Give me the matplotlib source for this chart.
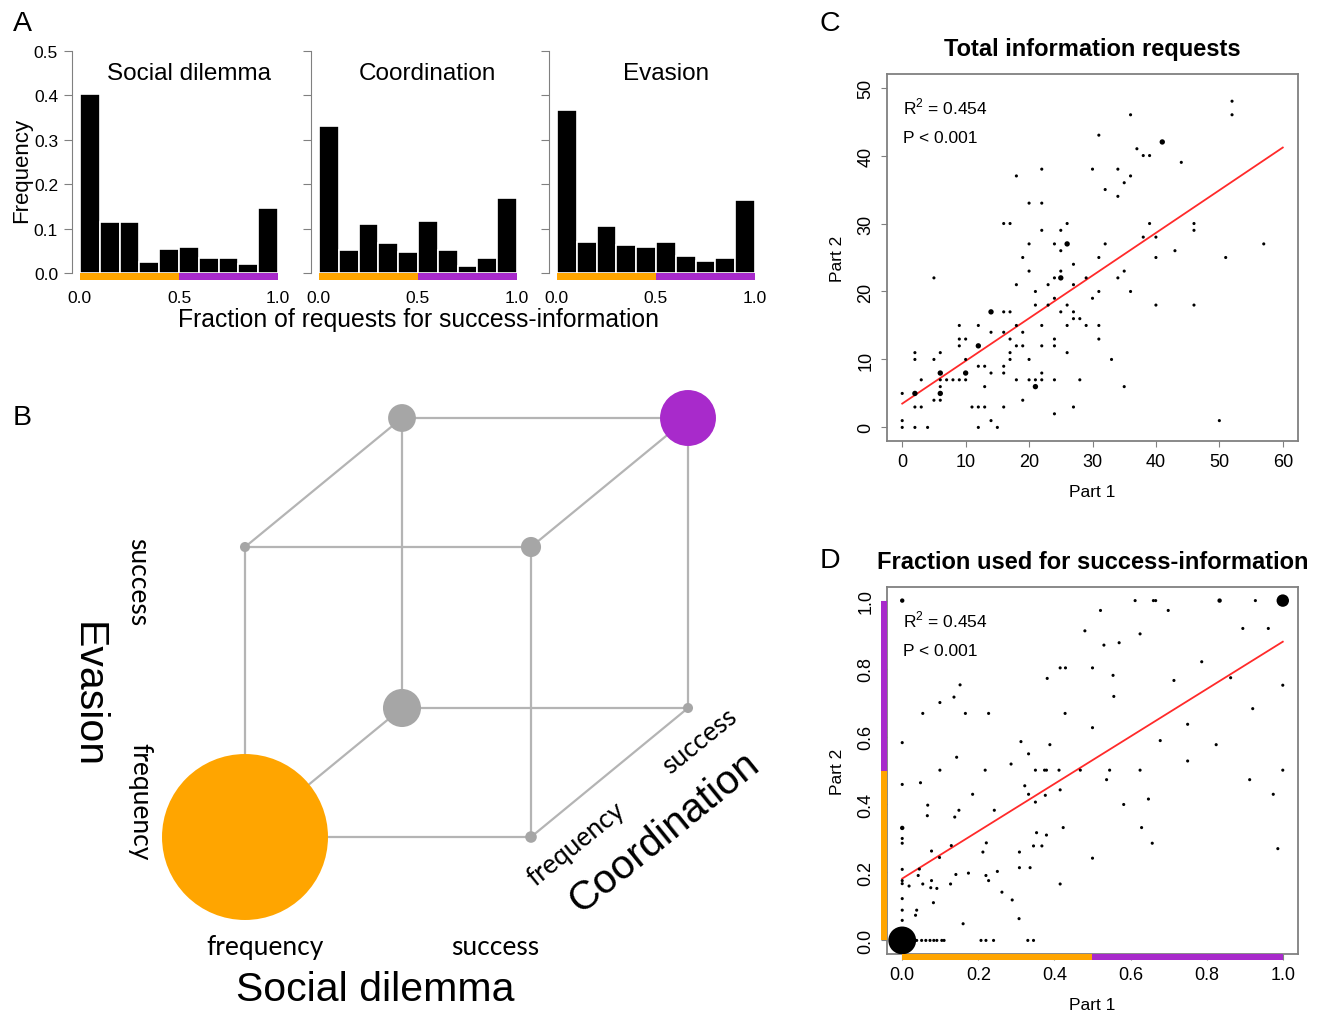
import itertools
import matplotlib
matplotlib.use('Agg')
import matplotlib.pyplot as plt
from matplotlib.patches import Circle, Rectangle

plt.rcParams['font.family'] = ['Liberation Sans', 'DejaVu Sans']
plt.rcParams['mathtext.fontset'] = 'custom'
plt.rcParams['mathtext.rm'] = 'Liberation Sans'

W, H = 1323, 1012
ORANGE = '#FFA500'
PURPLE = '#A82ACB'
GREY = '#808080'

# ---- panel A: histograms of fraction of requests for success-information
bin_left = [0.0, 0.1, 0.2, 0.3, 0.4, 0.5, 0.6, 0.7, 0.8, 0.9]
games = ['Social dilemma', 'Coordination', 'Evasion']
freq_social = [0.404, 0.114, 0.114, 0.026, 0.054, 0.059, 0.034, 0.034, 0.020, 0.147]
freq_coord = [0.332, 0.053, 0.111, 0.067, 0.047, 0.118, 0.053, 0.015, 0.033, 0.170]
freq_evasion = [0.367, 0.070, 0.107, 0.064, 0.058, 0.070, 0.039, 0.027, 0.033, 0.164]

# ---- panel B: cube of strategy types (social dilemma, coordination, evasion)
type_sd = [0, 1, 0, 1, 0, 1, 0, 1]
type_co = [0, 0, 1, 1, 0, 0, 1, 1]
type_ev = [0, 0, 0, 0, 1, 1, 1, 1]
type_share = [0.819, 0.004, 0.043, 0.003, 0.003, 0.012, 0.023, 0.093]

# ---- panel C: total information requests, part 1 vs part 2
c_part1 = [0, 0, 0, 2, 2, 2, 2, 2, 3, 3, 4, 5, 5, 5, 6, 6, 6, 6, 6, 6, 7, 8,
           9, 9, 9, 9, 10, 10, 10, 10, 11, 12, 12, 12, 12, 12, 13, 13, 13,
           14, 14, 14, 14, 15, 16, 16, 16, 16, 16, 16, 17, 17, 17, 17, 17,
           18, 18, 18, 18, 18, 19, 19, 19, 19, 20, 20, 20, 20, 20, 21, 21, 21, 21,
           22, 22, 22, 22, 22, 22, 22, 23, 23, 24, 24, 24, 24, 24, 24, 24,
           25, 25, 25, 25, 25, 26, 26, 26, 26, 26, 27, 27, 27, 27, 27, 28, 28,
           29, 29, 30, 30, 31, 31, 31, 31, 31, 32, 32, 33, 34, 34, 34, 35, 35, 35,
           36, 36, 36, 37, 38, 38, 39, 39, 40, 40, 40, 41, 43, 44, 46, 46, 46,
           50, 51, 52, 52, 57]
c_part2 = [5, 1, 0, 5, 11, 10, 3, 0, 7, 3, 0, 22, 10, 4, 11, 8, 7, 5, 6, 4, 7, 7,
           15, 13, 12, 7, 13, 10, 8, 7, 3, 15, 12, 9, 3, 0, 9, 6, 3,
           17, 14, 8, 1, 0, 30, 17, 14, 9, 8, 3, 30, 17, 13, 11, 10,
           37, 21, 15, 12, 7, 25, 14, 12, 4, 33, 27, 23, 10, 7, 20, 18, 7, 6,
           38, 33, 29, 15, 12, 8, 7, 21, 18, 27, 22, 19, 13, 12, 7, 2,
           29, 26, 23, 22, 17, 30, 27, 18, 15, 11, 24, 21, 17, 16, 3, 16, 7,
           22, 15, 38, 19, 43, 25, 20, 15, 13, 35, 27, 10, 38, 34, 22, 36, 23, 6,
           46, 37, 20, 41, 40, 28, 40, 30, 28, 25, 18, 42, 26, 39, 30, 29, 18,
           1, 25, 48, 46, 27]
c_n = [1] * len(c_part1)
for big in [(2, 5), (6, 8), (6, 5), (10, 8), (12, 12), (14, 17), (21, 6),
            (25, 22), (26, 27), (41, 42)]:
    c_n[list(zip(c_part1, c_part2)).index(big)] = 3
c_fit = (3.5, 0.628)  # intercept, slope

# ---- panel D: fraction used for success-information, part 1 vs part 2
d_part1 = [0.0, 0.0, 0.0, 0.0, 0.0, 0.0, 0.0, 0.0, 0.0, 0.0, 0.0, 0.0, 0.0,
           0.038, 0.051, 0.062, 0.073, 0.083, 0.091, 0.104, 0.110, 0.207, 0.220,
           0.240, 0.330, 0.345,
           0.018, 0.035, 0.038, 0.042, 0.045, 0.048, 0.054, 0.054, 0.066, 0.067,
           0.075, 0.077, 0.077, 0.082, 0.091, 0.098, 0.099, 0.099, 0.127, 0.129,
           0.136, 0.138, 0.141, 0.143, 0.149, 0.152, 0.160, 0.166, 0.174, 0.185,
           0.212, 0.218, 0.220, 0.221, 0.227, 0.227, 0.242, 0.250, 0.262, 0.286,
           0.289, 0.307, 0.308, 0.308, 0.312, 0.322, 0.332, 0.332, 0.336, 0.345,
           0.350, 0.350, 0.353, 0.367, 0.374, 0.379, 0.376, 0.379, 0.381, 0.388,
           0.412, 0.415, 0.415, 0.415, 0.423, 0.429, 0.428, 0.468, 0.480, 0.500,
           0.500, 0.500, 0.521, 0.530, 0.537, 0.545, 0.554, 0.556, 0.570, 0.582,
           0.612, 0.625, 0.625, 0.629, 0.647, 0.657, 0.660, 0.666, 0.678, 0.699,
           0.714, 0.750, 0.750, 0.787, 0.825, 0.834, 0.863, 0.895, 0.913, 0.921,
           0.928, 0.962, 0.975, 0.987, 0.991, 1.0, 1.0, 1.0]
d_part2 = [1.0, 0.582, 0.459, 0.331, 0.300, 0.286, 0.209, 0.176, 0.167, 0.123,
           0.089, 0.059, 0.0,
           0.0, 0.0, 0.0, 0.0, 0.0, 0.0, 0.0, 0.0, 0.0, 0.0, 0.0, 0.0, 0.0,
           0.160, 0.074, 0.089, 0.191, 0.210, 0.464, 0.668, 0.166, 0.367, 0.398,
           0.155, 0.176, 0.263, 0.111, 0.153, 0.244, 0.700, 0.501, 0.166, 0.279,
           0.716, 0.363, 0.194, 0.539, 0.383, 0.752, 0.049, 0.668, 0.198, 0.430,
           0.260, 0.501, 0.191, 0.287, 0.668, 0.176, 0.383, 0.203, 0.142, 0.519,
           0.119, 0.064, 0.260, 0.214, 0.585, 0.455, 0.549, 0.430, 0.214, 0.278,
           0.501, 0.407, 0.317, 0.278, 0.501, 0.501, 0.427, 0.310, 0.771, 0.576,
           0.501, 0.802, 0.443, 0.166, 0.332, 0.802, 0.668, 0.501, 0.911, 0.802,
           0.626, 0.242, 0.971, 0.869, 0.473, 0.501, 0.780, 0.718, 0.876, 0.400,
           1.0, 0.902, 0.501, 0.332, 0.416, 0.286, 1.0, 1.0, 0.588, 0.971,
           0.765, 0.636, 0.528, 0.820, 0.576, 1.0, 0.773, 0.918, 0.473, 0.682,
           1.0, 0.918, 0.430, 0.270, 1.0, 1.0, 0.751, 0.501]
d_n = [1] * len(d_part1)
d_n[0] = 2
d_n[3] = 2
d_n[12] = 80
d_n[d_part1.index(0.834)] = 2
d_n[len(d_part1) - 3] = 16
d_fit = (0.182, 0.697)


fig = plt.figure(figsize=(W / 100, H / 100), dpi=100)


def px_axes(x0, y0, w, h, **kw):
    return fig.add_axes([x0 / W, 1 - (y0 + h) / H, w / W, h / H], **kw)


# ---------------- panel B (drawn in pixel coordinates on a full-figure axes)
axb = px_axes(0, 0, W, H)
axb.set_xlim(0, W)
axb.set_ylim(H, 0)
axb.axis('off')
origin = (245, 838)
v_sd, v_co, v_ev = (286, 0), (157, -129), (0, -290)


def project(sd, co, ev):
    return (origin[0] + sd * v_sd[0] + co * v_co[0] + ev * v_ev[0],
            origin[1] + sd * v_sd[1] + co * v_co[1] + ev * v_ev[1])


corners = list(itertools.product([0, 1], repeat=3))
for a, b in itertools.combinations(corners, 2):
    if sum(abs(i - j) for i, j in zip(a, b)) == 1:
        pa, pb = project(*a), project(*b)
        axb.plot([pa[0], pb[0]], [pa[1], pb[1]], color='#b4b4b4', lw=1.6, zorder=1)

for sd, co, ev, share in zip(type_sd, type_co, type_ev, type_share):
    if (sd, co, ev) == (0, 0, 0):
        col = ORANGE
    elif (sd, co, ev) == (1, 1, 1):
        col = PURPLE
    else:
        col = '#a6a6a6'
    axb.add_patch(Circle(project(sd, co, ev), 91.7 * share ** 0.5, color=col, lw=0, zorder=2))

small = dict(family=['Lato', 'DejaVu Sans'], fontsize=19, ha='center', va='center')
axb.text(138, 582, 'success', rotation=270, **small)
axb.text(140, 802, 'frequency', rotation=270, **small)
axb.text(265, 948, 'frequency', **small)
axb.text(495, 948, 'success', **small)
axb.text(576, 844, 'frequency', rotation=39, **small)
axb.text(700, 741, 'success', rotation=39, **small)
axb.text(88, 695, 'Evasion', rotation=270, fontsize=29.5, ha='center', va='center')
axb.text(375, 990, 'Social dilemma', fontsize=29.5, ha='center', va='center')
axb.text(664, 832, 'Coordination', rotation=39, fontsize=29.5, ha='center', va='center',
         rotation_mode='anchor')

# ---------------- panel A
for i, (name, freq) in enumerate(zip(games, [freq_social, freq_coord, freq_evasion])):
    ax = px_axes([72, 311, 549][i], 43, 214, 240)
    ax.bar(bin_left, freq, width=0.1, align='edge', color='black',
           edgecolor='white', linewidth=1.2)
    ax.add_patch(Rectangle((0, -0.015), 0.5, 0.015, color=ORANGE, lw=0, clip_on=False))
    ax.add_patch(Rectangle((0.5, -0.015), 0.5, 0.015, color=PURPLE, lw=0, clip_on=False))
    ax.set_xlim(-0.04, 1.04)
    ax.set_ylim(-0.02, 0.52)
    for s in ['top', 'right', 'bottom']:
        ax.spines[s].set_visible(False)
    ax.spines['left'].set_bounds(0, 0.5)
    ax.spines['left'].set_color(GREY)
    ax.set_yticks([0, 0.1, 0.2, 0.3, 0.4, 0.5])
    if i == 0:
        ax.set_yticklabels(['0.0', '0.1', '0.2', '0.3', '0.4', '0.5'])
    else:
        ax.set_yticklabels([])
    ax.tick_params(axis='y', length=6, color=GREY, labelsize=12.5, pad=4)
    ax.set_xticks([0, 0.5, 1.0])
    ax.set_xticklabels(['0.0', '0.5', '1.0'])
    ax.tick_params(axis='x', length=0, labelsize=12.5, pad=6)
    ax.text(0.55, 0.45, name, ha='center', va='center', fontsize=17.5)

fig.text(22 / W, 1 - 170 / H, 'Frequency', rotation=90, ha='center', va='center', fontsize=16)
fig.text(419 / W, 1 - 320 / H, 'Fraction of requests for success-information',
         ha='center', va='center', fontsize=17.8)


# ---------------- panels C and D
def style_box(ax):
    for s in ax.spines.values():
        s.set_color(GREY)
        s.set_linewidth(1.3)
    ax.tick_params(length=4.5, color=GREY, labelsize=13, pad=4.5)
    for lbl in ax.get_yticklabels():
        lbl.set_rotation(90)
        lbl.set_va('center')
    ax.set_xlabel('Part 1', fontsize=12.5, labelpad=10)
    ax.set_ylabel('Part 2', fontsize=12.5, labelpad=9)
    ax.text(0.04, 0.913, r'R$^2$ = 0.454', transform=ax.transAxes, fontsize=12.5, va='center')
    ax.text(0.04, 0.828, 'P < 0.001', transform=ax.transAxes, fontsize=12.5, va='center')


axc = px_axes(887, 75, 411, 367)
axc.scatter(c_part1, c_part2, s=[5 * n for n in c_n], color='black', lw=0, zorder=3)
axc.plot([0, 60], [c_fit[0], c_fit[0] + 60 * c_fit[1]], color='#ff2a2a', lw=1.3, zorder=2)
axc.set_xlim(-2.4, 62.4)
axc.set_ylim(-2, 52)
axc.set_xticks(range(0, 61, 10))
axc.set_yticks(range(0, 51, 10))
style_box(axc)
axc.set_title('Total information requests', fontsize=17, fontweight='bold', pad=13.5)

axd = px_axes(887, 588, 411, 367)
axd.scatter(d_part1, d_part2, s=[5 * n for n in d_n], color='black', lw=0, zorder=3)
axd.plot([0, 1], [d_fit[0], d_fit[0] + d_fit[1]], color='#ff2a2a', lw=1.3, zorder=2)
axd.set_xlim(-0.04, 1.04)
axd.set_ylim(-0.04, 1.04)
ticks = [0.0, 0.2, 0.4, 0.6, 0.8, 1.0]
axd.set_xticks(ticks)
axd.set_xticklabels(['%.1f' % t for t in ticks])
axd.set_yticks(ticks)
axd.set_yticklabels(['%.1f' % t for t in ticks])
style_box(axd)
axd.set_title('Fraction used for success-information', fontsize=17, fontweight='bold', pad=13.5)
yt = axd.get_yaxis_transform()
xt = axd.get_xaxis_transform()
axd.add_patch(Rectangle((-0.015, 0), 0.015, 0.5, transform=yt, color=ORANGE, lw=0, clip_on=False, zorder=5))
axd.add_patch(Rectangle((-0.015, 0.5), 0.015, 0.5, transform=yt, color=PURPLE, lw=0, clip_on=False, zorder=5))
axd.add_patch(Rectangle((0, -0.017), 0.5, 0.017, transform=xt, color=ORANGE, lw=0, clip_on=False, zorder=5))
axd.add_patch(Rectangle((0.5, -0.017), 0.5, 0.017, transform=xt, color=PURPLE, lw=0, clip_on=False, zorder=5))

# panel letters
for letter, x, y in [('A', 22, 24), ('B', 22, 418), ('C', 830, 24), ('D', 830, 561)]:
    fig.text(x / W, 1 - y / H, letter, fontsize=20.5, ha='center', va='center')

fig.savefig('out.png', dpi=100)
